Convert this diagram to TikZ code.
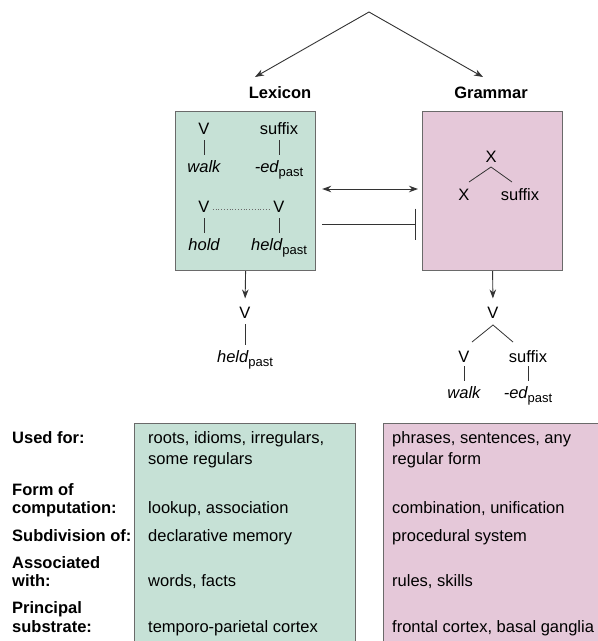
\documentclass[tikz,border=0pt]{standalone}
\usepackage{fontspec}
\setmainfont{Liberation Sans}
\usetikzlibrary{arrows.meta}
\definecolor{lexgreen}{HTML}{C6E1D6}
\definecolor{grampink}{HTML}{E5C8D9}
\definecolor{edge}{HTML}{6A6A6A}
\definecolor{ink}{HTML}{333333}
\newcommand{\pst}{\raisebox{-4pt}{\fontsize{13}{13}\selectfont past}}
\tikzset{
  txt/.style={inner sep=0pt, anchor=base, font=\fontsize{16.5}{19.5}\selectfont},
  lbl/.style={inner sep=0pt, anchor=base west, font=\fontsize{16.5}{19.5}\selectfont\bfseries},
  cell/.style={inner sep=0pt, anchor=base west, font=\fontsize{16.5}{19.5}\selectfont},
  head/.style={inner sep=0pt, anchor=base, font=\fontsize{16.5}{19.5}\selectfont\bfseries},
  panel/.style={draw=edge, line width=1.2pt, inner sep=0pt, anchor=north west},
  tline/.style={draw=ink, line width=0.8pt},
  conn/.style={draw=ink, line width=0.9pt},
  tip/.style={-{Stealth[length=9pt,width=6.5pt]}},
}
\begin{document}
\begin{tikzpicture}[x=1pt,y=-1pt]
\useasboundingbox (0,0) rectangle (598,641);
\clip (0,0) rectangle (598,641);

% top fork
\coordinate (apex) at (369,12);
\coordinate (lexend) at (255,77);
\coordinate (gramend) at (483,77);
\draw[conn,{Stealth[length=9pt,width=6.5pt]}-{Stealth[length=9pt,width=6.5pt]}] (lexend) -- (apex) -- (gramend);

\node[head] (lexicon) at (280,98) {Lexicon};
\node[head] (grammar) at (491,98) {Grammar};

% upper panels
\node[panel, fill=lexgreen, minimum width=140pt, minimum height=159pt] (lexbox) at (175,111) {};
\node[panel, fill=grampink, minimum width=140pt, minimum height=159pt] (grambox) at (422,111) {};

% lexicon contents
\node[txt] (v1) at (204,134) {V};
\node[txt] (suf1) at (279,134) {suffix};
\node[txt] (walk1) at (204,172) {\itshape walk};
\node[txt] (ed1) at (279,172) {\itshape -ed\upshape\pst};
\node[txt] (v2) at (204,212) {V};
\node[txt] (v3) at (279,212) {V};
\node[txt] (hold) at (204,250) {\itshape hold};
\node[txt] (held1) at (279,250) {\itshape held\upshape\pst};
\draw[tline, shorten <=6pt, shorten >=5pt] (v1.south) -- (walk1.north);
\draw[tline, shorten <=6pt, shorten >=5pt] (suf1.south) -- (suf1.south |- walk1.north);
\draw[tline, shorten <=6pt, shorten >=5pt] (v2.south) -- (hold.north);
\draw[tline, shorten <=6pt, shorten >=5pt] (v3.south) -- (v3.south |- held1.north);
\draw[edge, dotted, line width=0.8pt, shorten <=3pt, shorten >=3pt] ([yshift=3pt]v2.base east) -- ([yshift=3pt]v3.base west);

% grammar contents
\node[txt] (x1) at (491,162) {X};
\node[txt] (x2) at (464,200) {X};
\node[txt] (suf2) at (520,200) {suffix};
\coordinate (x1b) at (491,167);
\coordinate (x2t) at (469,182);
\coordinate (suf2t) at (512,182);
\draw[tline] (x2t) -- (x1b) -- (suf2t);

% links between panels
\coordinate (dbl) at (0,189);
\coordinate (inh) at (0,224);
\draw[conn, {Stealth[length=9pt,width=6.5pt]}-{Stealth[length=9pt,width=6.5pt]}, shorten <=6pt, shorten >=4pt] (lexbox.east |- dbl) -- (grambox.west |- dbl);
\draw[conn, -{Bar[width=31pt]}, shorten <=6pt, shorten >=6pt] (lexbox.east |- inh) -- (grambox.west |- inh);

% outputs
\node[txt] (v5) at (245,318) {V};
\node[txt] (held2) at (245,362) {\itshape held\upshape\pst};
\draw[conn, tip, shorten >=8pt] (lexbox.south) -- (v5.north);
\draw[tline, shorten <=6pt, shorten >=5pt] (v5.south) -- (v5.south |- held2.north);

\node[txt] (v6) at (493,318) {V};
\node[txt] (v7) at (464,362) {V};
\node[txt] (suf3) at (528,362) {suffix};
\node[txt] (walk2) at (464,398) {\itshape walk};
\node[txt] (ed2) at (528,398) {\itshape -ed\upshape\pst};
\draw[conn, tip, shorten >=8pt] (grambox.south) -- (v6.north);
\coordinate (v6b) at (493,325);
\coordinate (v7t) at (472,342);
\coordinate (suf3t) at (513,342);
\draw[tline] (v7t) -- (v6b) -- (suf3t);
\draw[tline, shorten <=4pt, shorten >=5pt] (v7.south) -- (walk2.north);
\draw[tline, shorten <=4pt, shorten >=5pt] (suf3.south) -- (suf3.south |- walk2.north);

% table
\node[panel, fill=lexgreen, minimum width=221pt, minimum height=240pt] (tabL) at (134,423) {};
\node[panel, fill=grampink, minimum width=240pt, minimum height=240pt] (tabR) at (383,423) {};

\node[lbl] (l1) at (12,443) {Used for:};
\node[lbl] (l2a) at (12,495) {Form of};
\node[lbl] (l2b) at (12,513) {computation:};
\node[lbl] (l3) at (12,541) {Subdivision of:};
\node[lbl] (l4a) at (12,568) {Associated};
\node[lbl] (l4b) at (12,586) {with:};
\node[lbl] (l5a) at (12,613) {Principal};
\node[lbl] (l5b) at (12,632) {substrate:};

\node[cell] (g1a) at (148,443) {roots, idioms, irregulars,};
\node[cell] (g1b) at (148,464) {some regulars};
\node[cell] (g2) at (148,513) {lookup, association};
\node[cell] (g3) at (148,541) {declarative memory};
\node[cell] (g4) at (148,586) {words, facts};
\node[cell] (g5) at (148,632) {temporo-parietal cortex};

\node[cell] (p1a) at (392,443) {phrases, sentences, any};
\node[cell] (p1b) at (392,464) {regular form};
\node[cell] (p2) at (392,513) {combination, unification};
\node[cell] (p3) at (392,541) {procedural system};
\node[cell] (p4) at (392,586) {rules, skills};
\node[cell] (p5) at (392,632) {frontal cortex, basal ganglia};
\end{tikzpicture}
\end{document}
